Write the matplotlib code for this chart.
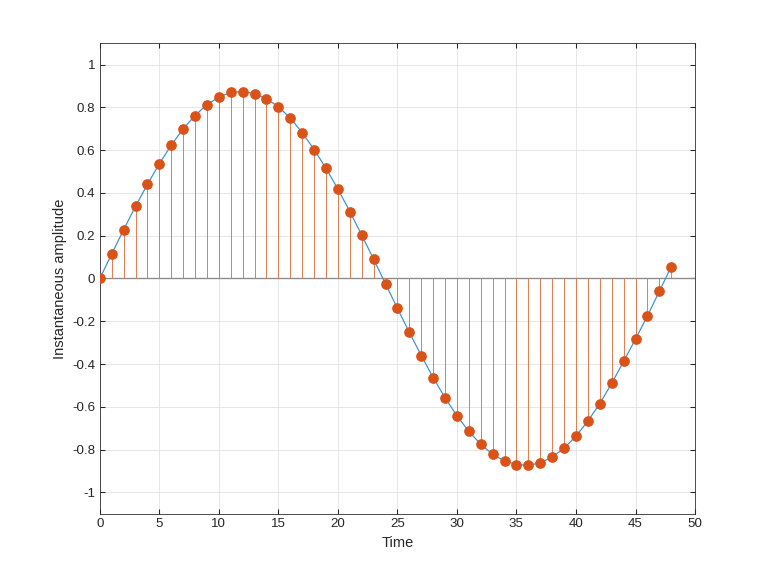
import numpy as np
import matplotlib
matplotlib.use('Agg')
import matplotlib.pyplot as plt

plt.rcParams['font.family'] = ['Liberation Sans', 'DejaVu Sans']

# samples
n = np.arange(0, 49)
amp = [0.0, 0.115, 0.228, 0.338, 0.44, 0.537, 0.623, 0.70, 0.762, 0.813, 0.848, 0.87,
       0.874, 0.864, 0.84, 0.803, 0.75, 0.682, 0.603, 0.515, 0.418, 0.313, 0.203, 0.09,
       -0.025, -0.14, -0.252, -0.36, -0.463, -0.558, -0.642, -0.715, -0.775, -0.822,
       -0.853, -0.87, -0.873, -0.862, -0.835, -0.793, -0.737, -0.666, -0.585, -0.49,
       -0.388, -0.283, -0.175, -0.06, 0.055]

blue = '#3d8fd0'
orange = '#D95319'

fig = plt.figure(figsize=(8, 6), dpi=96)
ax = fig.add_axes([0.13, 0.108, 0.775, 0.817])

ax.plot(n, amp, color=blue, linewidth=0.9, zorder=2)
ml, sl, bl = ax.stem(n, amp, basefmt=' ')
plt.setp(sl, color='#e2774a', linewidth=0.7)
plt.setp(ml, color=orange, markersize=7, zorder=3)
ax.axhline(0, color='#8c8c8c', linewidth=1.0, zorder=1.5)

ax.set_xlim(0, 50)
ax.set_ylim(-1.1, 1.1)
ax.set_xticks(np.arange(0, 51, 5))
ax.set_yticks(np.arange(-1, 1.01, 0.2))
ax.set_yticklabels(['-1', '-0.8', '-0.6', '-0.4', '-0.2', '0', '0.2', '0.4', '0.6', '0.8', '1'])
ax.grid(True, color='#e0e0e0', linewidth=0.6)
ax.set_axisbelow(True)
ax.tick_params(direction='in', length=4, labelsize=10, colors='#262626', top=True, right=True)
for s in ax.spines.values():
    s.set_color('#262626')
    s.set_linewidth(0.6)
ax.set_xlabel('Time', fontsize=11, color='#262626')
ax.set_ylabel('Instantaneous amplitude', fontsize=11, color='#262626')

fig.savefig('out.png', dpi=96)
